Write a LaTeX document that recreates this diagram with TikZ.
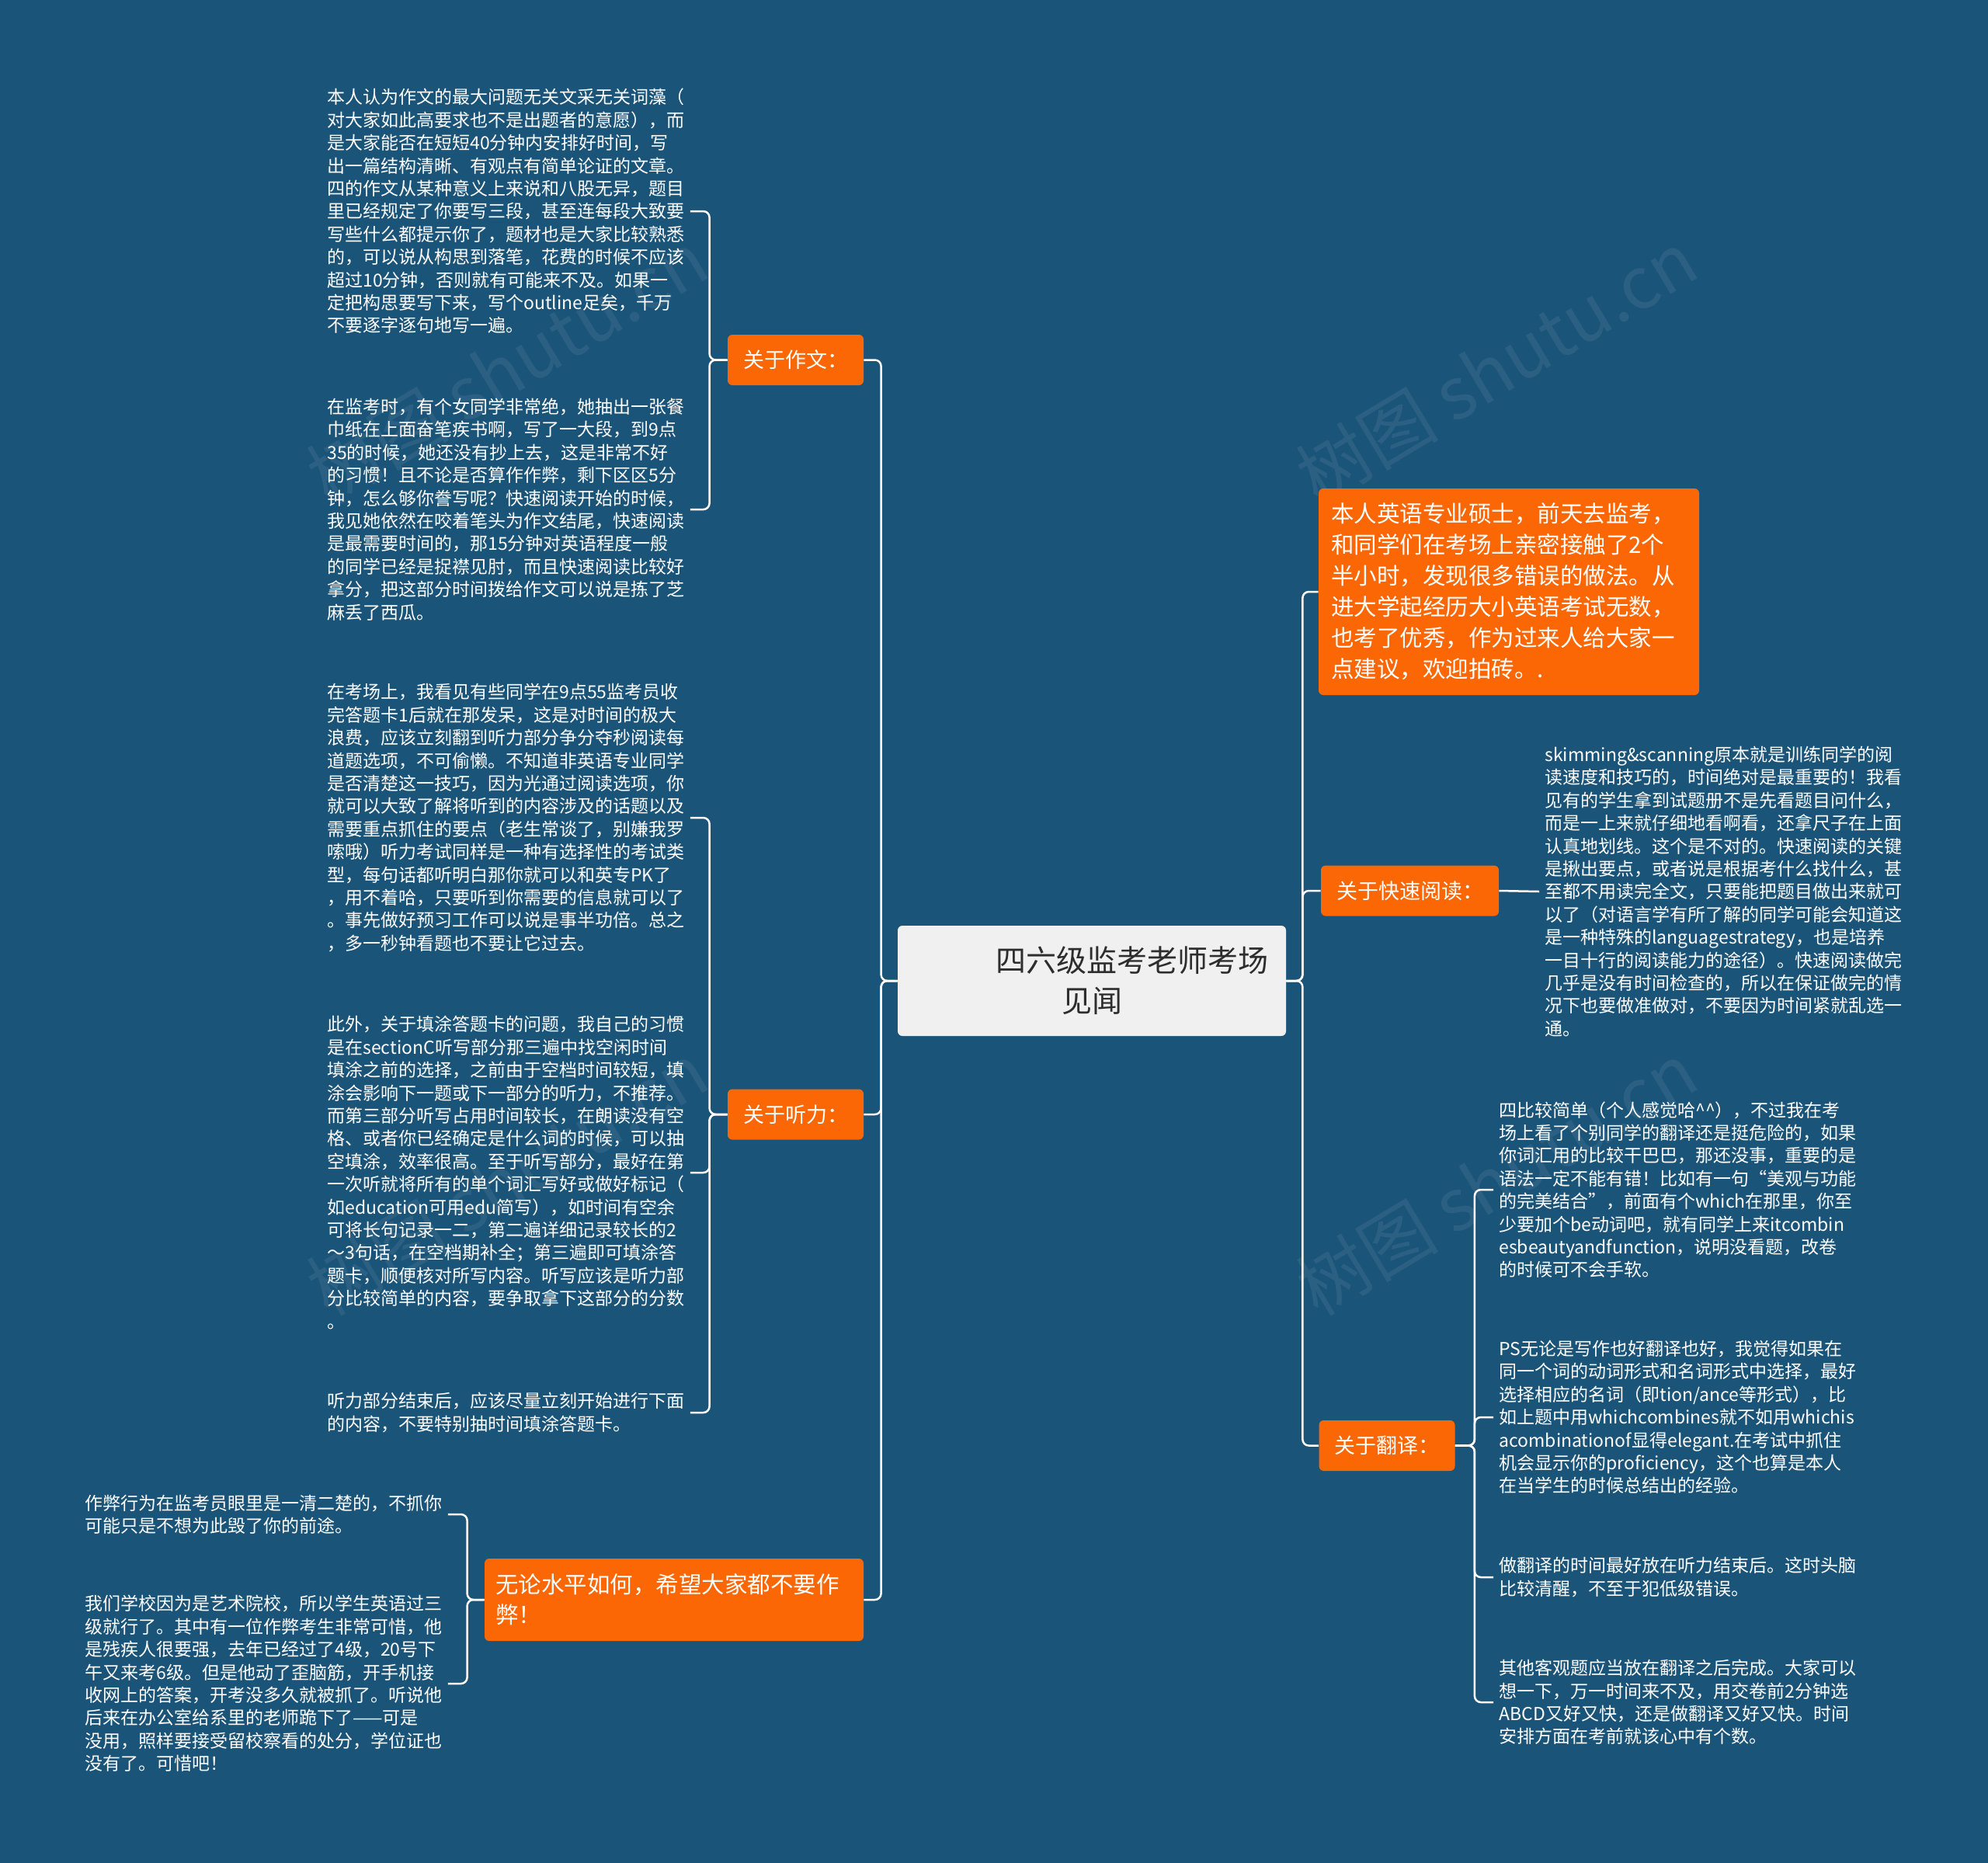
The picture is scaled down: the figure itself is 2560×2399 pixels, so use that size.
\documentclass[tikz,border=0pt]{standalone}
\usepackage{fontspec}
\setmainfont{Noto Sans CJK SC}
\definecolor{bgblue}{RGB}{27,84,121}
\definecolor{branchorange}{RGB}{252,103,6}
\definecolor{rootfill}{RGB}{240,240,240}
\definecolor{roottext}{RGB}{45,45,45}
\begin{document}
\begin{tikzpicture}[x=0.5pt,y=-0.5pt,
  conn/.style={draw=white, line width=1.25pt, rounded corners=4pt},
  leaf/.style={text=white, align=left, inner xsep=3.5pt, inner ysep=2pt, font=\fontsize{11.5}{14.7}\selectfont},
  branch/.style={fill=branchorange, text=white, rounded corners=3pt, inner xsep=10pt, minimum height=32.5pt, font=\fontsize{13.5}{16}\selectfont},
  bigbranch/.style={fill=branchorange, text=white, rounded corners=3pt, align=left, inner xsep=8pt, font=\fontsize{14.75}{20}\selectfont},
  rootbox/.style={fill=rootfill, text=roottext, rounded corners=3pt, align=center, minimum width=250pt, minimum height=71pt, font=\fontsize{19.5}{26}\selectfont},
  wm/.style={rotate=31, text=white, opacity=0.07, font=\fontsize{46}{46}\selectfont}]
\fill[bgblue] (0,0) rectangle (2560,2399);
\useasboundingbox (0,0) rectangle (2560,2399);

% watermarks
\node[wm] (wma) at (653,473) {树图 shutu.cn};
\node[wm] (wmb) at (1927,473) {树图 shutu.cn};
\node[wm] (wmc) at (653,1518) {树图 shutu.cn};
\node[wm] (wmd) at (1927,1518) {树图 shutu.cn};
\node[wm] (wme) at (653,2563) {树图 shutu.cn};
\node[wm] (wmf) at (1927,2563) {树图 shutu.cn};

% root
\node[rootbox] (root) at (1406,1263) {\hspace*{52pt}四六级监考老师考场\\见闻};

% left branches
\node[branch] (zuowen) at (1024.5,463.5) {关于作文：};
\node[branch] (tingli) at (1024.5,1435) {关于听力：};
\node[bigbranch, text width=230pt, inner xsep=7pt, minimum height=53pt, font=\fontsize{14.75}{19.5}\selectfont] (wulun) at (868,2060) {无论水平如何，希望大家都不要作\\弊！};

% right branches
\node[bigbranch, text width=229pt, minimum height=133pt] (intro) at (1943,762) {本人英语专业硕士，前天去监考，\\和同学们在考场上亲密接触了2个\\半小时，发现很多错误的做法。从\\进大学起经历大小英语考试无数，\\也考了优秀，作为过来人给大家一\\点建议，欢迎拍砖。.};
\node[branch] (kuaisu) at (1815.5,1147) {关于快速阅读：};
\node[branch] (fanyi) at (1786,1861.5) {关于翻译：};

% left leaves
\node[leaf, anchor=west] (z1) at (414,272) {本人认为作文的最大问题无关文采无关词藻（\\对大家如此高要求也不是出题者的意愿），而\\是大家能否在短短40分钟内安排好时间，写\\出一篇结构清晰、有观点有简单论证的文章。\\四的作文从某种意义上来说和八股无异，题目\\里已经规定了你要写三段，甚至连每段大致要\\写些什么都提示你了，题材也是大家比较熟悉\\的，可以说从构思到落笔，花费的时候不应该\\超过10分钟，否则就有可能来不及。如果一\\定把构思要写下来，写个outline足矣，千万\\不要逐字逐句地写一遍。};
\node[leaf, anchor=west] (z2) at (414,656) {在监考时，有个女同学非常绝，她抽出一张餐\\巾纸在上面奋笔疾书啊，写了一大段，到9点\\35的时候，她还没有抄上去，这是非常不好\\的习惯！且不论是否算作作弊，剩下区区5分\\钟，怎么够你誊写呢？快速阅读开始的时候，\\我见她依然在咬着笔头为作文结尾，快速阅读\\是最需要时间的，那15分钟对英语程度一般\\的同学已经是捉襟见肘，而且快速阅读比较好\\拿分，把这部分时间拨给作文可以说是拣了芝\\麻丢了西瓜。};
\node[leaf, anchor=west] (l1) at (414,1053) {在考场上，我看见有些同学在9点55监考员收\\完答题卡1后就在那发呆，这是对时间的极大\\浪费，应该立刻翻到听力部分争分夺秒阅读每\\道题选项，不可偷懒。不知道非英语专业同学\\是否清楚这一技巧，因为光通过阅读选项，你\\就可以大致了解将听到的内容涉及的话题以及\\需要重点抓住的要点（老生常谈了，别嫌我罗\\嗦哦）听力考试同样是一种有选择性的考试类\\型，每句话都听明白那你就可以和英专PK了\\，用不着哈，只要听到你需要的信息就可以了\\。事先做好预习工作可以说是事半功倍。总之\\，多一秒钟看题也不要让它过去。};
\node[leaf, anchor=west] (l2) at (414,1510) {此外，关于填涂答题卡的问题，我自己的习惯\\是在sectionC听写部分那三遍中找空闲时间\\填涂之前的选择，之前由于空档时间较短，填\\涂会影响下一题或下一部分的听力，不推荐。\\而第三部分听写占用时间较长，在朗读没有空\\格、或者你已经确定是什么词的时候，可以抽\\空填涂，效率很高。至于听写部分，最好在第\\一次听就将所有的单个词汇写好或做好标记（\\如education可用edu简写），如时间有空余\\可将长句记录一二，第二遍详细记录较长的2\\～3句话，在空档期补全；第三遍即可填涂答\\题卡，顺便核对所写内容。听写应该是听力部\\分比较简单的内容，要争取拿下这部分的分数\\。};
\node[leaf, anchor=west] (l3) at (414,1819) {听力部分结束后，应该尽量立刻开始进行下面\\的内容，不要特别抽时间填涂答题卡。};
\node[leaf, anchor=west] (w1) at (102,1950) {作弊行为在监考员眼里是一清二楚的，不抓你\\可能只是不想为此毁了你的前途。};
\node[leaf, anchor=west] (w2) at (102,2168) {我们学校因为是艺术院校，所以学生英语过三\\级就行了。其中有一位作弊考生非常可惜，他\\是残疾人很要强，去年已经过了4级，20号下\\午又来考6级。但是他动了歪脑筋，开手机接\\收网上的答案，开考没多久就被抓了。听说他\\后来在办公室给系里的老师跪下了——可是\\没用，照样要接受留校察看的处分，学位证也\\没有了。可惜吧！};

% right leaves
\node[leaf, anchor=west] (k1) at (1982,1148) {skimming\&scanning原本就是训练同学的阅\\读速度和技巧的，时间绝对是最重要的！我看\\见有的学生拿到试题册不是先看题目问什么，\\而是一上来就仔细地看啊看，还拿尺子在上面\\认真地划线。这个是不对的。快速阅读的关键\\是揪出要点，或者说是根据考什么找什么，甚\\至都不用读完全文，只要能把题目做出来就可\\以了（对语言学有所了解的同学可能会知道这\\是一种特殊的languagestrategy，也是培养\\一目十行的阅读能力的途径）。快速阅读做完\\几乎是没有时间检查的，所以在保证做完的情\\况下也要做准做对，不要因为时间紧就乱选一\\通。};
\node[leaf, anchor=west] (f1) at (1923,1532) {四比较简单（个人感觉哈\textasciicircum\textasciicircum），不过我在考\\场上看了个别同学的翻译还是挺危险的，如果\\你词汇用的比较干巴巴，那还没事，重要的是\\语法一定不能有错！比如有一句“美观与功能\\的完美结合”，前面有个which在那里，你至\\少要加个be动词吧，就有同学上来itcombin\\esbeautyandfunction，说明没看题，改卷\\的时候可不会手软。};
\node[leaf, anchor=west] (f2) at (1923,1825) {PS无论是写作也好翻译也好，我觉得如果在\\同一个词的动词形式和名词形式中选择，最好\\选择相应的名词（即tion/ance等形式），比\\如上题中用whichcombines就不如用whichis\\acombinationof显得elegant.在考试中抓住\\机会显示你的proficiency，这个也算是本人\\在当学生的时候总结出的经验。};
\node[leaf, anchor=west] (f3) at (1923,2031) {做翻译的时间最好放在听力结束后。这时头脑\\比较清醒，不至于犯低级错误。};
\node[leaf, anchor=west] (f4) at (1923,2192) {其他客观题应当放在翻译之后完成。大家可以\\想一下，万一时间来不及，用交卷前2分钟选\\ABCD又好又快，还是做翻译又好又快。时间\\安排方面在考前就该心中有个数。};

% root connectors
\draw[conn] (root.west) -- ++(-21,0) |- (zuowen.east);
\draw[conn] (root.west) -- ++(-21,0) |- (tingli.east);
\draw[conn] (root.west) -- ++(-21,0) |- (wulun.east);
\draw[conn] (root.east) -- ++(21,0) |- (intro.west);
\draw[conn] (root.east) -- ++(21,0) |- (kuaisu.west);
\draw[conn] (root.east) -- ++(21,0) |- (fanyi.west);

% leaf connectors
\draw[conn] (zuowen.west) -- ++(-23,0) |- (z1.east);
\draw[conn] (zuowen.west) -- ++(-23,0) |- (z2.east);
\draw[conn] (tingli.west) -- ++(-23,0) |- (l1.east);
\draw[conn] (tingli.west) -- ++(-23,0) |- (l2.east);
\draw[conn] (tingli.west) -- ++(-23,0) |- (l3.east);
\draw[conn] (wulun.west) -- ++(-22,0) |- (w1.east);
\draw[conn] (wulun.west) -- ++(-22,0) |- (w2.east);
\draw[conn] (kuaisu.east) -- (k1.west);
\draw[conn] (fanyi.east) -- ++(25,0) |- (f1.west);
\draw[conn] (fanyi.east) -- ++(25,0) |- (f2.west);
\draw[conn] (fanyi.east) -- ++(25,0) |- (f3.west);
\draw[conn] (fanyi.east) -- ++(25,0) |- (f4.west);
\end{tikzpicture}
\end{document}
